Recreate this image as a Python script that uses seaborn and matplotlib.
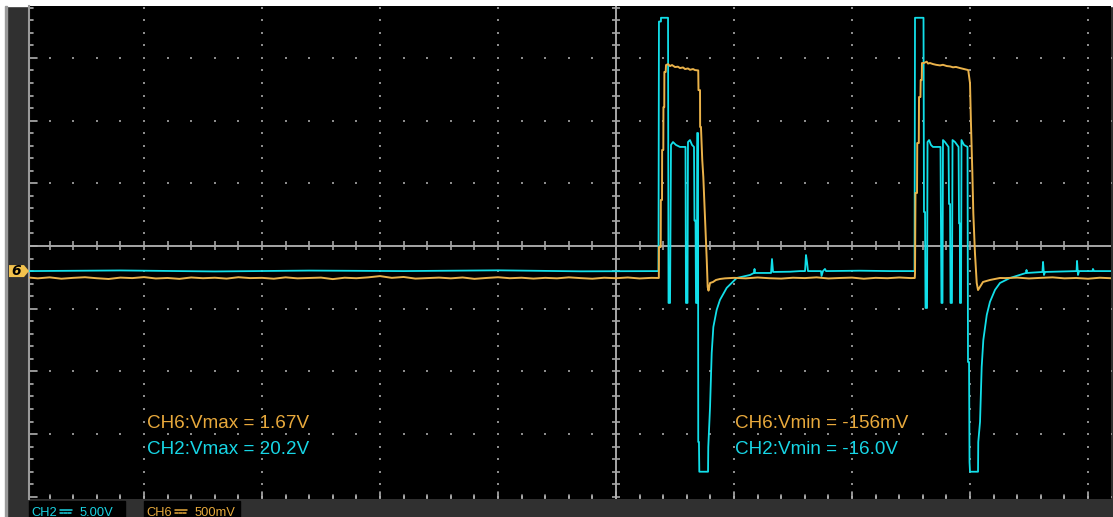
import numpy as np
import pandas as pd
import matplotlib
matplotlib.use("Agg")
import matplotlib.pyplot as plt
import seaborn as sns
from matplotlib.patches import Rectangle, Polygon
from matplotlib.lines import Line2D

# ---------------- channel settings ----------------
CH2_SCALE = 5.0      # V / div
CH6_SCALE = 0.5      # V / div
GND_OFFSET = -0.40   # ground marker position, div

# ---------------- CH2 (cyan) : time [div], voltage [V] ----------------
ch2_idle_t = [-4.975, -4.2, -3.4, -2.6, -1.8, -1.0, -0.3, 0.360]
ch2_idle_v = [0.00, 0.05, -0.03, 0.04, 0.00, 0.06, -0.02, 0.00]

ch2_burst1_t = [0.364, 0.381, 0.381, 0.441, 0.445, 0.458, 0.466, 0.483, 0.508, 0.542,
                0.589, 0.593, 0.606, 0.610, 0.627, 0.644, 0.661, 0.665, 0.674, 0.678,
                0.686, 0.688, 0.695, 0.697, 0.703, 0.706, 0.780, 0.782, 0.797, 0.811,
                0.825, 0.853, 0.881, 0.938, 1.023, 1.136, 1.169, 1.174, 1.178, 1.314,
                1.322, 1.331, 1.475, 1.559, 1.602, 1.610, 1.619, 1.627, 1.737, 1.742,
                1.754, 1.771, 1.780, 2.068, 2.322, 2.530]
ch2_burst1_v = [19.9, 19.9, 20.2, 20.2, -2.54, -2.54, 10.06, 10.29, 10.06, 9.90,
                9.90, -2.54, -2.54, 10.29, 10.45, 10.06, 9.90, 4.03, 4.03, -2.54,
                -2.54, 11.01, 11.01, -13.63, -13.63, -16.0, -16.0, -14.03, -10.83, -6.53,
                -4.46, -3.10, -2.30, -1.34, -0.55, -0.31, -0.15, 0.17, -0.15, -0.15,
                0.96, -0.07, -0.05, 0.00, 0.00, 1.28, 0.70, 0.00, 0.00, -0.39,
                0.00, 0.17, 0.00, 0.03, 0.00, 0.00]

ch2_burst2_t = [2.534, 2.606, 2.610, 2.619, 2.623, 2.636, 2.640, 2.653, 2.669, 2.686,
                2.750, 2.754, 2.758, 2.767, 2.771, 2.788, 2.818, 2.822, 2.831, 2.835,
                2.847, 2.852, 2.873, 2.903, 2.907, 2.914, 2.915, 2.924, 2.928, 2.949,
                2.979, 2.983, 2.992, 2.996, 3.000, 3.068, 3.070, 3.085, 3.099, 3.113,
                3.142, 3.169, 3.212, 3.254, 3.339, 3.475, 3.479, 3.483, 3.614, 3.619,
                3.627, 3.636, 3.903, 3.907, 3.915, 3.924, 4.038, 4.042, 4.051, 4.195]
ch2_burst2_v = [20.2, 20.2, 4.71, 4.71, -2.94, -2.94, 10.29, 10.45, 10.06, 9.90,
                9.90, 3.48, -2.54, -2.54, 10.45, 10.29, 9.90, 5.35, 5.35, -2.54,
                -2.54, 10.45, 10.29, 9.90, 3.80, 3.80, -2.54, -2.54, 10.45, 10.06,
                9.90, -7.25, -7.25, -15.22, -16.0, -16.0, -13.63, -12.03, -7.64, -5.49,
                -3.50, -2.46, -1.50, -0.95, -0.55, -0.15, 0.09, -0.15, -0.07, 0.73,
                -0.31, -0.07, 0.00, 0.81, -0.31, 0.00, 0.00, 0.17, 0.00, 0.00]

# ---------------- CH6 (orange) : time [div], voltage [V] ----------------
ch6_idle1_t = [-4.97, -4.9, -4.8, -4.7, -4.6, -4.5, -4.4, -4.3, -4.2, -4.1,
               -4.0, -3.9, -3.8, -3.7, -3.6, -3.5, -3.4, -3.3, -3.2, -3.1,
               -3.0, -2.9, -2.8, -2.7, -2.6, -2.5, -2.4, -2.3, -2.2, -2.1,
               -2.0, -1.9, -1.8, -1.7, -1.6, -1.5, -1.4, -1.3, -1.2, -1.1,
               -1.0, -0.9, -0.8, -0.7, -0.6, -0.5, -0.4, -0.3, -0.2, -0.1,
               0.0, 0.1, 0.2, 0.3]
ch6_idle1_v = [-0.052, -0.058, -0.050, -0.061, -0.054, -0.049, -0.057, -0.063, -0.052, -0.056,
               -0.048, -0.059, -0.055, -0.062, -0.051, -0.057, -0.053, -0.060, -0.049, -0.056,
               -0.054, -0.061, -0.050, -0.058, -0.055, -0.052, -0.064, -0.053, -0.057, -0.050,
               -0.040, -0.054, -0.047, -0.060, -0.056, -0.052, -0.058, -0.051, -0.062, -0.055,
               -0.049, -0.057, -0.053, -0.060, -0.054, -0.058, -0.050, -0.056, -0.061, -0.053,
               -0.057, -0.051, -0.059, -0.054]

ch6_pulse1_t = [0.363, 0.364, 0.379, 0.380, 0.390, 0.391, 0.401, 0.402, 0.409, 0.410,
                0.421, 0.424, 0.441, 0.458, 0.475, 0.500, 0.525, 0.542, 0.568, 0.585,
                0.610, 0.627, 0.653, 0.669, 0.697, 0.699, 0.712, 0.713, 0.720, 0.731,
                0.740, 0.748, 0.760, 0.769, 0.777, 0.784, 0.797, 0.822, 0.847, 0.881,
                0.924]
ch6_pulse1_v = [-0.055, 0.192, 0.192, 0.567, 0.567, 0.966, 0.966, 1.307, 1.307, 1.588,
                1.588, 1.643, 1.650, 1.635, 1.643, 1.627, 1.630, 1.619, 1.624, 1.611,
                1.616, 1.605, 1.611, 1.603, 1.600, 1.443, 1.443, 1.149, 1.149, 0.886,
                0.750, 0.567, 0.304, 0.089, -0.127, -0.156, -0.095, -0.087, -0.071, -0.063,
                -0.058]

ch6_idle2_t = [1.0, 1.1, 1.2, 1.3, 1.4, 1.5, 1.6, 1.7, 1.8, 1.9, 2.0, 2.1, 2.2, 2.3, 2.4, 2.5]
ch6_idle2_v = [-0.054, -0.058, -0.051, -0.057, -0.060, -0.053, -0.056, -0.050,
               -0.059, -0.055, -0.052, -0.061, -0.054, -0.057, -0.051, -0.056]

ch6_pulse2_t = [2.532, 2.534, 2.538, 2.551, 2.553, 2.566, 2.568, 2.580, 2.582, 2.591,
                2.593, 2.610, 2.633, 2.644, 2.661, 2.686, 2.712, 2.746, 2.771, 2.803,
                2.831, 2.856, 2.881, 2.915, 2.949, 2.985, 3.000, 3.008, 3.020, 3.028,
                3.042, 3.057, 3.068, 3.110, 3.169, 3.254]
ch6_pulse2_v = [-0.055, -0.015, 0.623, 0.623, 1.021, 1.021, 1.388, 1.388, 1.523, 1.523,
                1.659, 1.660, 1.670, 1.655, 1.659, 1.651, 1.645, 1.640, 1.645, 1.635,
                1.632, 1.625, 1.628, 1.619, 1.611, 1.603, 1.499, 1.181, 0.782, 0.463,
                0.144, -0.095, -0.151, -0.087, -0.071, -0.055]

ch6_idle3_t = [3.3, 3.4, 3.5, 3.6, 3.7, 3.8, 3.9, 4.0, 4.1, 4.195]
ch6_idle3_v = [-0.056, -0.052, -0.059, -0.054, -0.050, -0.058, -0.055, -0.061, -0.053, -0.057]

# ---------------- measurement readouts ----------------
ch6_vmax, ch2_vmax = 1.67, 20.2
ch6_vmin_mv, ch2_vmin = -156, -16.0

# ---------------- channel scale labels ----------------
scale_channels = ["CH2", "CH6"]
scale_values = ["5.00V", "500mV"]

# ---------------- assemble traces (screen units: divisions) ----------------
ch2 = pd.DataFrame({
    "t": ch2_idle_t + ch2_burst1_t + ch2_burst2_t,
    "v": ch2_idle_v + ch2_burst1_v + ch2_burst2_v,
})
ch2["y"] = ch2["v"] / CH2_SCALE + GND_OFFSET

ch6 = pd.DataFrame({
    "t": ch6_idle1_t + ch6_pulse1_t + ch6_idle2_t + ch6_pulse2_t + ch6_idle3_t,
    "v": ch6_idle1_v + ch6_pulse1_v + ch6_idle2_v + ch6_pulse2_v + ch6_idle3_v,
})
ch6["y"] = ch6["v"] / CH6_SCALE + GND_OFFSET

# ---------------- figure / screen geometry ----------------
W, H = 1113, 517
sns.set_style("dark")
plt.rcParams["font.family"] = ["Liberation Sans", "DejaVu Sans"]

fig = plt.figure(figsize=(W / 100, H / 100), dpi=100, facecolor="#303030")


def fx(px):
    return px / W


def fy(py):
    return 1 - py / H


PX_X, PX_Y = 118.0, 62.7          # pixels per division
CX, CY = 616, 246                 # screen centre in pixels
L, R, T, B = 29, 1111, 6, 499     # graticule edges in pixels

ax = fig.add_axes([fx(L), fy(B), (R - L) / W, (B - T) / H])
ax.set_facecolor("black")
x0, x1 = (L - CX) / PX_X, (R - CX) / PX_X
y0, y1 = (CY - B) / PX_Y, (CY - T) / PX_Y
ax.set_xlim(x0, x1)
ax.set_ylim(y0, y1)
ax.set_xticks([])
ax.set_yticks([])
for side in ["top", "right", "bottom"]:
    ax.spines[side].set_visible(False)
ax.spines["left"].set_color("#9a9a9a")
ax.spines["left"].set_linewidth(1.5)

# graticule: dotted division lines
minor_t = np.round(np.arange(-5, 4.21, 0.2), 3)
minor_y = np.round(np.arange(-4, 3.81, 0.2), 3)
dot_kw = dict(s=1.8, marker="s", color="#8c8c8c", linewidths=0, zorder=1)
for gx in [-4, -3, -2, -1, 1, 2, 3, 4]:
    ax.scatter(np.full(minor_y.size, gx), minor_y, **dot_kw)
for gy in [-4, -3, -2, -1, 1, 2, 3]:
    ax.scatter(minor_t, np.full(minor_t.size, gy), **dot_kw)

# centre crosshair with minor ticks
cross_col = "#a6a6a6"
ax.axhline(0, color=cross_col, lw=1.4, zorder=2)
ax.axvline(0, color=cross_col, lw=1.4, zorder=2)
ax.vlines(minor_t[np.abs(minor_t) > 1e-6], -4.5 / PX_Y, 4.5 / PX_Y, color=cross_col, lw=1.2, zorder=2)
ax.hlines(minor_y[np.abs(minor_y) > 1e-6], -4 / PX_X, 4 / PX_X, color=cross_col, lw=1.2, zorder=2)

# edge ticks
for yy in minor_y:
    ln = 8 if abs(yy - round(yy)) < 1e-6 else 4
    ax.plot([x0, x0 + ln / PX_X], [yy, yy], color="#b0b0b0", lw=1.2, zorder=2)
for tt in minor_t:
    ln = 7 if abs(tt - round(tt)) < 1e-6 else 4
    ax.plot([tt, tt], [y0, y0 + ln / PX_Y], color="#b0b0b0", lw=1.2, zorder=2)

# ---------------- traces ----------------
sns.lineplot(data=ch2, x="t", y="y", sort=False, estimator=None, errorbar=None,
             color="#12dfe9", lw=1.3, ax=ax, zorder=4)
sns.lineplot(data=ch6, x="t", y="y", sort=False, estimator=None, errorbar=None,
             color="#eab24a", lw=1.4, ax=ax, zorder=5)
ax.set_xlabel("")
ax.set_ylabel("")

# ---------------- screen frame ----------------
fig.add_artist(Rectangle((0, fy(T)), 1, T / H, transform=fig.transFigure, color="white", zorder=0))
fig.add_artist(Rectangle((0, 0), fx(5), 1, transform=fig.transFigure, color="white", zorder=0))
fig.add_artist(Rectangle((fx(5), 0), fx(2), fy(T), transform=fig.transFigure, color="#9a9a9a", zorder=0))

# ground marker for CH6
gy_px = CY - GND_OFFSET * PX_Y
marker = Polygon([(fx(9), fy(gy_px - 6)), (fx(24), fy(gy_px - 6)), (fx(29), fy(gy_px)),
                  (fx(24), fy(gy_px + 6)), (fx(9), fy(gy_px + 6))],
                 closed=True, transform=fig.transFigure, facecolor="#f3c24d", edgecolor="none")
fig.add_artist(marker)
fig.text(fx(16.5), fy(gy_px), "6", color="black", fontsize=10, fontstyle="italic",
         fontweight="bold", ha="center", va="center", family=["DejaVu Sans"])

# channel scale boxes: name, DC-coupling symbol (solid bar over dashes), volts/div
for left, name, value, col in [(29, scale_channels[0], scale_values[0], "#19d3e3"),
                               (144, scale_channels[1], scale_values[1], "#e6a93c")]:
    fig.add_artist(Rectangle((fx(left), 0), fx(96), fy(501),
                             transform=fig.transFigure, color="black"))
    fig.text(fx(left + 2), fy(516), name, color=col, fontsize=9.3, ha="left", va="baseline")
    sx = left + 31
    fig.add_artist(Line2D([fx(sx), fx(sx + 12)], [fy(509.5), fy(509.5)],
                          transform=fig.transFigure, color=col, lw=1.1))
    for k in range(3):
        fig.add_artist(Line2D([fx(sx + 4.2 * k), fx(sx + 4.2 * k + 2.6)], [fy(512.5), fy(512.5)],
                              transform=fig.transFigure, color=col, lw=1.1))
    fig.text(fx(left + 51), fy(516), value, color=col, fontsize=9.3, ha="left", va="baseline")

# measurement readouts
orange_txt, cyan_txt = "#e8a93c", "#17d6e6"
fs = 13.6
fig.text(fx(147), fy(427.5), f"CH6:Vmax = {ch6_vmax:.2f}V", color=orange_txt, fontsize=fs)
fig.text(fx(147), fy(453.5), f"CH2:Vmax = {ch2_vmax:.1f}V", color=cyan_txt, fontsize=fs)
fig.text(fx(735), fy(427.5), f"CH6:Vmin = {ch6_vmin_mv}mV", color=orange_txt, fontsize=fs)
fig.text(fx(735), fy(453.5), f"CH2:Vmin = {ch2_vmin:.1f}V", color=cyan_txt, fontsize=fs)

fig.savefig("out.png", dpi=100, facecolor=fig.get_facecolor())
